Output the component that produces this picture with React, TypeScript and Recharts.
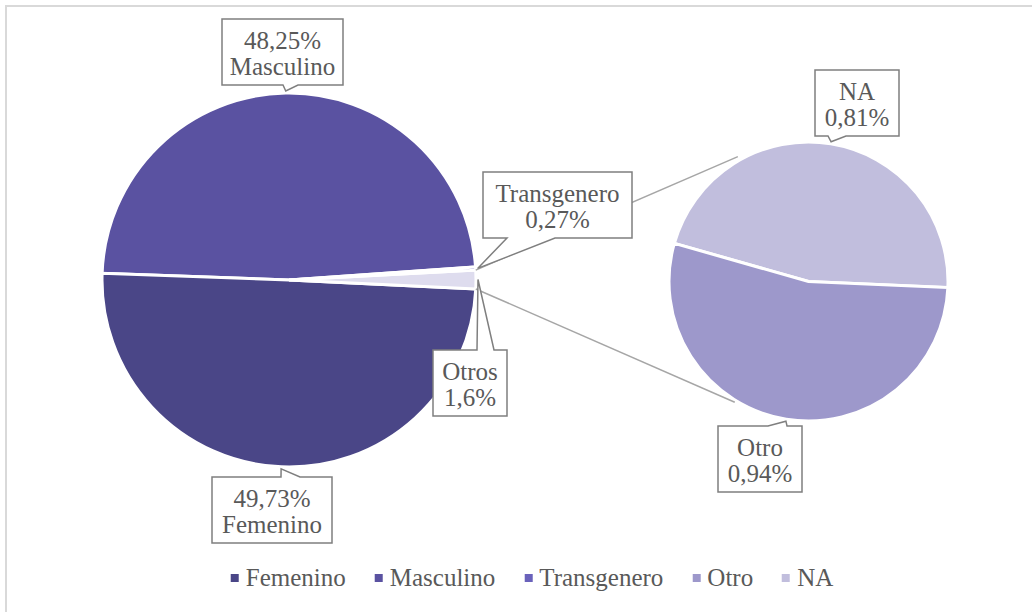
import { Cell, Pie, PieChart } from "recharts";

// main pie (percent of total)
const mainNames = ["Masculino", "Femenino", "Otros", "Transgenero"];
const mainValues = [48.25, 49.73, 1.6, 0.27];

// breakdown of "Otros" shown in the second pie
const subNames = ["NA", "Otro"];
const subValues = [0.81, 0.94];

const legendNames = ["Femenino", "Masculino", "Transgenero", "Otro", "NA"];

const COLORS: Record<string, string> = {
  Femenino: "#4a4687",
  Masculino: "#5a52a1",
  Transgenero: "#6a62bb",
  Otros: "#dedcee",
  Otro: "#9d98cb",
  NA: "#c1bedd",
};

const FONT = '"Liberation Serif", "Times New Roman", serif';
const TEXT = "#595959";
const RAD = Math.PI / 180;

const MAIN = { cx: 289, cy: 280, r: 187, start: 4 };
const SUB = { cx: 808.5, cy: 281.5, r: 139.5, start: -2.5 };

// callout boxes, placed relative to the slice tip
type Box = {
  dx: number;
  dy: number;
  w: number;
  side: "top" | "bottom";
  p1: number;
  p2: number;
  valueFirst?: boolean;
};
const BOXES: Record<string, Box> = {
  Masculino: { dx: -64, dy: -72, w: 121, side: "bottom", p1: 61, p2: 76, valueFirst: true },
  Femenino: { dx: -69, dy: 8, w: 120, side: "top", p1: 69, p2: 88, valueFirst: true },
  Otros: { dx: -45, dy: 70, w: 74, side: "top", p1: 44, p2: 61 },
  Transgenero: { dx: 5, dy: -96, w: 149, side: "bottom", p1: 24, p2: 72 },
  NA: { dx: -16, dy: -72, w: 84, side: "bottom", p1: 13, p2: 31 },
  Otro: { dx: -68, dy: 5, w: 84, side: "top", p1: 50, p2: 69 },
};
const BOX_H = 66;

const mainData = mainNames.map((name, i) => ({ name, value: mainValues[i] }));
const subData = subNames.map((name, i) => ({ name, value: subValues[i] }));

const polar = (cx: number, cy: number, r: number, a: number) => ({
  x: cx + r * Math.cos(-a * RAD),
  y: cy + r * Math.sin(-a * RAD),
});

const fmt = (v: number) => `${String(v).replace(".", ",")}%`;

function calloutPath(l: number, t: number, w: number, b: Box, tx: number, ty: number) {
  const r = l + w;
  const bt = t + BOX_H;
  if (b.side === "bottom") {
    return `M${l},${t} H${r} V${bt} H${l + b.p2} L${tx},${ty} L${l + b.p1},${bt} H${l} Z`;
  }
  return `M${l},${bt} V${t} H${l + b.p1} L${tx},${ty} L${l + b.p2},${t} H${r} V${bt} Z`;
}

function Callout(props: any) {
  const { cx, cy, midAngle, outerRadius, startAngle, endAngle, name, value } = props;
  const b = BOXES[name];
  if (!b) return null;
  const tip = polar(cx, cy, outerRadius + 2, midAngle);
  const l = Math.round(tip.x + b.dx);
  const t = Math.round(tip.y + b.dy);
  const lines = b.valueFirst ? [fmt(value), name] : [name, fmt(value)];

  // connector lines from the "Otros" slice to the second pie
  let connectors = null;
  if (name === "Otros") {
    const a = polar(cx, cy, outerRadius, endAngle);
    const c = polar(cx, cy, outerRadius, startAngle);
    const sa = polar(SUB.cx, SUB.cy, SUB.r + 4, 119.5);
    const sc = polar(SUB.cx, SUB.cy, SUB.r + 2, -121.4);
    connectors = (
      <g stroke="#a6a6a6" strokeWidth={1.5}>
        <line x1={a.x} y1={a.y} x2={sa.x} y2={sa.y} />
        <line x1={c.x} y1={c.y} x2={sc.x} y2={sc.y} />
      </g>
    );
  }

  return (
    <g>
      {connectors}
      <path d={calloutPath(l, t, b.w, b, tip.x, tip.y)} fill="#fff" stroke="#7f7f7f" strokeWidth={1.5} />
      {lines.map((s, i) => (
        <text
          key={i}
          x={l + b.w / 2}
          y={t + 30 + i * 26}
          textAnchor="middle"
          fontFamily={FONT}
          fontSize={25}
          fill={TEXT}
        >
          {s}
        </text>
      ))}
    </g>
  );
}

export default function App() {
  return (
    <div
      style={{
        position: "fixed",
        left: 0,
        top: 0,
        width: 1032,
        height: 612,
        overflow: "hidden",
        background: "#fff",
      }}
    >
      <div
        style={{
          position: "absolute",
          left: 5,
          top: 5,
          width: 1100,
          height: 700,
          border: "2px solid #d9d9d9",
        }}
      />
      <div style={{ position: "absolute", left: 0, top: 0 }}>
        <PieChart width={1032} height={612} margin={{ top: 0, right: 0, bottom: 0, left: 0 }}>
          <Pie
            data={mainData}
            dataKey="value"
            nameKey="name"
            cx={MAIN.cx}
            cy={MAIN.cy}
            outerRadius={MAIN.r}
            startAngle={MAIN.start}
            endAngle={MAIN.start + 360}
            stroke="#fff"
            strokeWidth={3}
            labelLine={false}
            label={Callout}
            isAnimationActive={false}
          >
            {mainData.map((d) => (
              <Cell key={d.name} fill={COLORS[d.name]} />
            ))}
          </Pie>
          <Pie
            data={subData}
            dataKey="value"
            nameKey="name"
            cx={SUB.cx}
            cy={SUB.cy}
            outerRadius={SUB.r}
            startAngle={SUB.start}
            endAngle={SUB.start + 360}
            stroke="#fff"
            strokeWidth={3}
            labelLine={false}
            label={Callout}
            isAnimationActive={false}
          >
            {subData.map((d) => (
              <Cell key={d.name} fill={COLORS[d.name]} />
            ))}
          </Pie>
        </PieChart>
      </div>
      <div
        style={{
          position: "absolute",
          left: 532,
          top: 563,
          transform: "translateX(-50%)",
          display: "flex",
          gap: 29,
          whiteSpace: "nowrap",
          fontFamily: FONT,
          fontSize: 25,
          lineHeight: "30px",
          color: TEXT,
        }}
      >
        {legendNames.map((n) => (
          <div key={n} style={{ display: "flex", alignItems: "center", gap: 7 }}>
            <span style={{ width: 8, height: 8, background: COLORS[n], display: "inline-block" }} />
            <span>{n}</span>
          </div>
        ))}
      </div>
    </div>
  );
}
